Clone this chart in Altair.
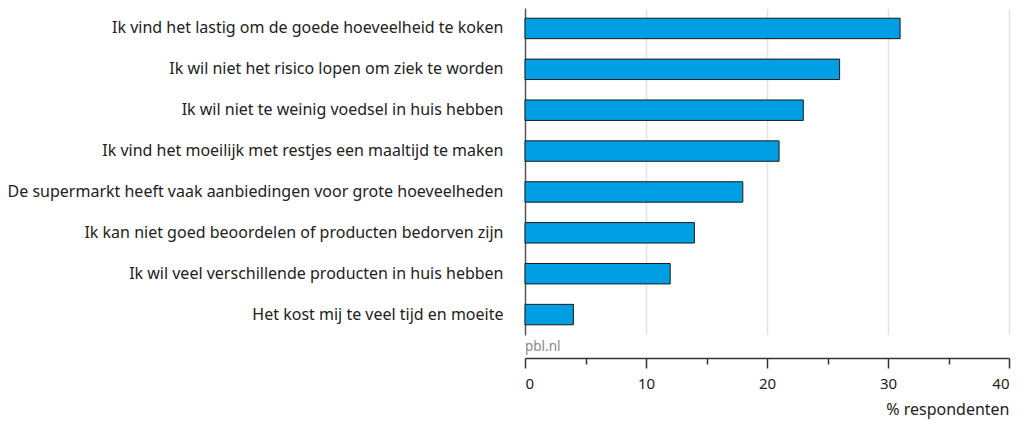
import altair as alt
import pandas as pd

categories = [
    "Ik vind het lastig om de goede hoeveelheid te koken",
    "Ik wil niet het risico lopen om ziek te worden",
    "Ik wil niet te weinig voedsel in huis hebben",
    "Ik vind het moeilijk met restjes een maaltijd te maken",
    "De supermarkt heeft vaak aanbiedingen voor grote hoeveelheden",
    "Ik kan niet goed beoordelen of producten bedorven zijn",
    "Ik wil veel verschillende producten in huis hebben",
    "Het kost mij te veel tijd en moeite",
]
values = [31, 26, 23, 21, 18, 14, 12, 4]
tick_values = [0, 5, 10, 15, 20, 25, 30, 35, 40]
x_title = "% respondenten"
source_text = "pbl.nl"

df = pd.DataFrame({"reden": categories, "pct": values})

FONT = "Noto Sans"
W, H = 484, 327

bars = alt.Chart(df).mark_bar(
    color="#009FE3", stroke="#1a1a1a", strokeWidth=1
).encode(
    y=alt.Y(
        "reden:N",
        sort=categories,
        title=None,
        scale=alt.Scale(paddingInner=0.5, paddingOuter=0.25),
        axis=alt.Axis(
            ticks=False,
            tickSize=0,
            labelPadding=22,
            labelFontSize=16,
            labelFont=FONT,
            labelColor="#222222",
            labelLimit=600,
            domainColor="#555555",
            domainWidth=1.5,
            grid=False,
        ),
    ),
    x=alt.X(
        "pct:Q",
        title=x_title,
        scale=alt.Scale(domain=[0, 40], nice=False),
        axis=alt.Axis(
            values=tick_values,
            offset=23,
            labelExpr="datum.value % 10 === 0 ? datum.label : ''",
            tickSize={"condition": {"test": "datum.value % 10 === 0", "value": 10}, "value": 6},
            tickColor="#333333",
            tickWidth=1.5,
            domainColor="#333333",
            domainWidth=1.5,
            labelPadding=8,
            labelFontSize=15,
            labelFont=FONT,
            labelColor="#222222",
            titleFont=FONT,
            titleFontSize=16,
            titleFontWeight="normal",
            titleColor="#222222",
            titleAnchor="end",
            titleAlign="right",
            titlePadding=10,
            grid=True,
            gridColor="#e3e3e3",
            gridWidth=1.5,
            gridOpacity={"condition": {"test": "datum.value % 10 === 0 && datum.value > 0", "value": 1}, "value": 0},
        ),
    ),
)

src = alt.Chart(pd.DataFrame({"t": [source_text]})).mark_text(
    align="left", baseline="middle", font=FONT, fontSize=13.5, color="#8a8a8a"
).encode(text="t:N", x=alt.value(0), y=alt.value(H + 12))

chart = alt.layer(bars, src).properties(
    width=W,
    height=H,
    autosize=alt.AutoSizeParams(type="none"),
    padding={"left": 517, "top": 0, "right": 8, "bottom": 85},
).configure(font=FONT).configure_view(stroke=None, strokeWidth=0)

chart.save("out.html", embed_options={"renderer": "svg", "actions": False})
